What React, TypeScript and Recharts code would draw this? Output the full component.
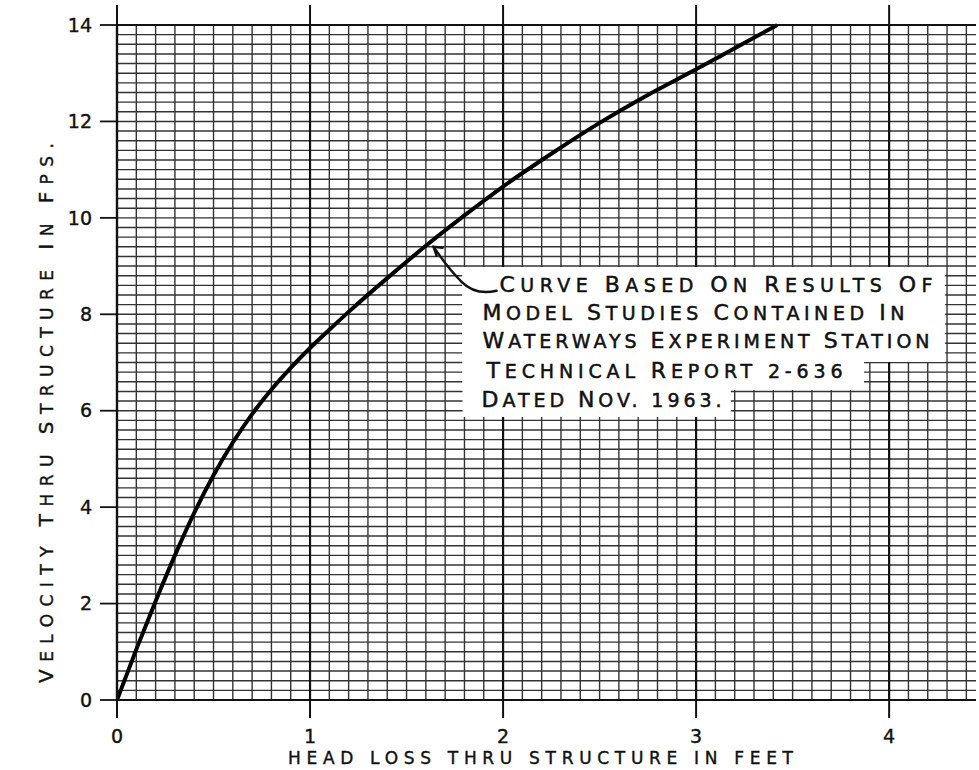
import React from "react";
import { LineChart, Line, XAxis, YAxis, CartesianGrid, ReferenceArea, ReferenceDot } from "recharts";

// values: head loss (ft) vs velocity (fps)
const headLoss = [0, 0.1, 0.2, 0.3, 0.4, 0.5, 0.6, 0.7, 0.8, 0.9, 1.0, 1.1, 1.2, 1.4, 1.6, 1.8, 2.0, 2.25, 2.5, 2.75, 3.0, 3.2, 3.42];
const velocity = [0, 1.05, 2.05, 3.0, 3.88, 4.66, 5.34, 5.93, 6.44, 6.89, 7.3, 7.68, 8.05, 8.75, 9.42, 10.05, 10.65, 11.33, 11.97, 12.55, 13.08, 13.52, 14.0];

const xTicks = [0, 1, 2, 3, 4];
const yTicks = [0, 2, 4, 6, 8, 10, 12, 14];
const minorX = Array.from({ length: 45 }, (_, i) => i / 10);
const minorY = Array.from({ length: 71 }, (_, i) => i / 5);
const xDomain = [0, 4.45];
const yDomain = [0, 14];

const noteLines = [
  "CURVE BASED ON RESULTS OF",
  "MODEL STUDIES CONTAINED IN",
  "WATERWAYS EXPERIMENT STATION",
  "TECHNICAL REPORT 2-636",
  "DATED NOV. 1963.",
];
const noteLayout = [
  { dx: 37, dy: 25, len: 433 },
  { dx: 20, dy: 53, len: 422 },
  { dx: 20, dy: 81, len: 447 },
  { dx: 24, dy: 111, len: 356 },
  { dx: 19, dy: 140, len: 240 },
];

const data = headLoss.map((h, i) => ({ h, v: velocity[i] }));

const font = "DejaVu Sans";
const ink = "#111";

// map a value through whatever scale object recharts hands to the grid generators
function toPx(axis: any, v: number, fallback: () => number) {
  const s = axis && axis.scale;
  if (typeof s === "function") return s(v);
  if (s && typeof s.map === "function") return s.map(v);
  return fallback();
}

const vGrid = (values: number[]) => ({ xAxis, offset }: any) =>
  values.map((v) =>
    toPx(xAxis, v, () => offset.left + ((v - xDomain[0]) / (xDomain[1] - xDomain[0])) * offset.width)
  );

const hGrid = (values: number[]) => ({ yAxis, offset }: any) =>
  values.map((v) =>
    toPx(yAxis, v, () => offset.top + offset.height - ((v - yDomain[0]) / (yDomain[1] - yDomain[0])) * offset.height)
  );

// hand-lettering look: first letter of each word a bit taller
const smallCaps = (line: string, big: number, small: number) =>
  line.split(" ").map((w, i) => (
    <React.Fragment key={i}>
      {i > 0 && <tspan fontSize={small}> </tspan>}
      {/^[A-Z]/.test(w) ? <tspan fontSize={big}>{w[0]}</tspan> : null}
      <tspan fontSize={small}>{/^[A-Z]/.test(w) ? w.slice(1) : w}</tspan>
    </React.Fragment>
  ));

const NoteText = ({ viewBox }: any) => {
  if (!viewBox) return null;
  return (
    <g>
      {noteLines.map((t, i) => (
        <text
          key={t}
          x={viewBox.x + noteLayout[i].dx}
          y={viewBox.y + noteLayout[i].dy}
          fontFamily={font}
          fill={ink}
          stroke={ink}
          strokeWidth={0.5}
          textLength={noteLayout[i].len}
          lengthAdjust="spacing"
        >
          {smallCaps(t, 22, 19)}
        </text>
      ))}
    </g>
  );
};

const Leader = ({ cx, cy }: any) => (
  <g transform={`translate(${cx},${cy})`} fill="none" stroke={ink} strokeWidth={2.4} strokeLinecap="round">
    <path d="M 63 44 C 50 47, 38 45, 28 35 C 18 25, 8 12, 0 0" />
    <path d="M 9 1 L 0 0 L 3 9" />
  </g>
);

const XTitle = ({ viewBox }: any) => (
  <text
    x={viewBox.x + viewBox.width / 2 - 6}
    y={viewBox.y + 64}
    textAnchor="middle"
    fontFamily={font}
    fontSize={17}
    fill={ink}
    stroke={ink}
    strokeWidth={0.4}
    textLength={505}
    lengthAdjust="spacing"
  >
    HEAD LOSS THRU STRUCTURE IN FEET
  </text>
);

const YTitle = ({ viewBox }: any) => {
  const x = 53;
  const y = viewBox.y + 388;
  return (
    <text
      x={x}
      y={y}
      transform={`rotate(-90, ${x}, ${y})`}
      textAnchor="middle"
      fontFamily={font}
      fill={ink}
      stroke={ink}
      strokeWidth={0.4}
      textLength={540}
      lengthAdjust="spacing"
    >
      {smallCaps("VELOCITY THRU STRUCTURE IN FPS.", 20, 17)}
    </text>
  );
};

const tickFont = { fontFamily: font, fontSize: 19, fill: ink, stroke: ink, strokeWidth: 0.4 };

export default function App() {
  return (
    <div style={{ position: "absolute", left: 0, top: 0, background: "#fff" }}>
      <style>{"body{margin:0;background:#fff}"}</style>
      <LineChart width={979} height={770} data={data} margin={{ top: 0, right: 3, bottom: 0, left: 0 }}>
        <CartesianGrid
          stroke="#333"
          strokeWidth={1.4}
          verticalCoordinatesGenerator={vGrid(minorX)}
          horizontalCoordinatesGenerator={hGrid(minorY)}
        />
        <CartesianGrid
          stroke={ink}
          strokeWidth={2.2}
          horizontal={false}
          verticalCoordinatesGenerator={vGrid(xTicks)}
        />
        <XAxis
          dataKey="h"
          type="number"
          domain={xDomain}
          allowDataOverflow
          ticks={xTicks}
          interval={0}
          height={70}
          tickSize={18}
          tickMargin={12}
          axisLine={{ stroke: ink, strokeWidth: 2.2 }}
          tickLine={{ stroke: ink, strokeWidth: 2 }}
          tick={tickFont}
          label={<XTitle />}
        />
        <XAxis
          xAxisId="top"
          orientation="top"
          dataKey="h"
          type="number"
          domain={xDomain}
          allowDataOverflow
          ticks={xTicks}
          interval={0}
          height={25}
          tickSize={20}
          axisLine={{ stroke: ink, strokeWidth: 2.2 }}
          tickLine={{ stroke: ink, strokeWidth: 2 }}
          tickFormatter={() => ""}
        />
        <YAxis
          type="number"
          domain={yDomain}
          ticks={yTicks}
          interval={0}
          width={117}
          tickSize={17}
          tickMargin={8}
          axisLine={{ stroke: ink, strokeWidth: 2.2 }}
          tickLine={{ stroke: ink, strokeWidth: 1.8 }}
          tick={tickFont}
          label={<YTitle />}
        />
        <ReferenceArea x1={1.79} x2={4.29} y1={7.01} y2={8.98} fill="#fff" fillOpacity={1} stroke="none" />
        <ReferenceArea x1={1.79} x2={3.87} y1={6.43} y2={8.98} fill="#fff" fillOpacity={1} stroke="none" />
        <ReferenceArea
          x1={1.79}
          x2={3.18}
          y1={5.87}
          y2={8.98}
          fill="#fff"
          fillOpacity={1}
          stroke="none"
          label={<NoteText />}
        />
        <Line
          dataKey="v"
          type="monotone"
          stroke="#000"
          strokeWidth={4}
          dot={false}
          isAnimationActive={false}
        />
        <ReferenceDot x={1.64} y={9.4} r={0} shape={<Leader />} />
      </LineChart>
    </div>
  );
}
